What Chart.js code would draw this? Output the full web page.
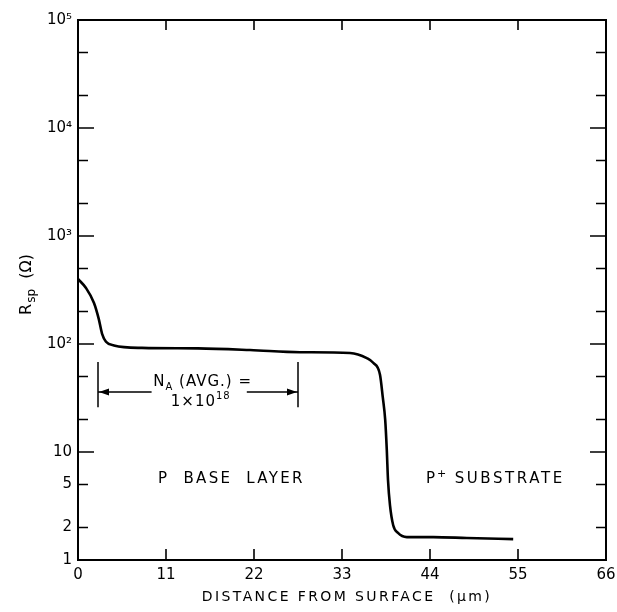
<!DOCTYPE html>
<html>
<head>
<meta charset="utf-8">
<script src="https://cdn.jsdelivr.net/npm/chart.js@4.4.1/dist/chart.umd.min.js"></script>
<style>
  html, body { margin: 0; padding: 0; background: #fff; }
  #wrap { width: 617px; height: 612px; }
</style>
</head>
<body>
<div id="wrap"><canvas id="chart" width="617" height="612"></canvas></div>
<script>
// spreading resistance profile
const distance = [0, 1, 2, 2.6, 3.0, 3.5, 4.5, 8, 15, 21.5, 27.75, 34, 36.1, 36.9, 37.75, 38.1, 38.4, 38.6, 38.75, 39, 39.4, 40, 41.1, 44.4, 48.6, 54.4];
const resistance = [400, 330, 240, 170, 125, 105, 97, 92, 91, 88, 84, 82.6, 74, 67, 52, 32, 19.8, 10.4, 5.5, 3.2, 2.1, 1.78, 1.63, 1.63, 1.6, 1.56];

const xTicks = [0, 11, 22, 33, 44, 55, 66];
const yTicks = [1, 2, 5, 10, 20, 50, 100, 200, 500, 1000, 2000, 5000, 10000, 20000, 50000, 100000];
const yLabelValues = [1, 2, 5, 10, 100, 1000, 10000, 100000];
const yLabelText = ['1', '2', '5', '10', '10²', '10³', '10⁴', '10⁵'];

const FONT = "'DejaVu Sans', sans-serif";

function spaced(ctx, text, x, y, spacing) {
  ctx.letterSpacing = spacing + 'px';
  ctx.fillText(text, x, y);
  const w = ctx.measureText(text).width;
  ctx.letterSpacing = '0px';
  return w;
}

// frame, inward ticks and the hand-lettered labels
const framePlugin = {
  id: 'frame',
  afterDraw(chart) {
    const { ctx, chartArea: a, scales: { x, y } } = chart;
    ctx.save();
    ctx.strokeStyle = '#000';
    ctx.fillStyle = '#000';
    ctx.lineWidth = 2;
    ctx.strokeRect(a.left, a.top, a.right - a.left, a.bottom - a.top);

    ctx.lineWidth = 1.6;
    yTicks.forEach(v => {
      if (v === 1 || v === 100000) return;
      const py = y.getPixelForValue(v);
      const l = Math.log10(v);
      const len = Math.abs(l - Math.round(l)) < 1e-9 ? 16 : 10;
      ctx.beginPath();
      ctx.moveTo(a.left, py); ctx.lineTo(a.left + len, py);
      ctx.moveTo(a.right, py); ctx.lineTo(a.right - len, py);
      ctx.stroke();
    });
    xTicks.forEach(v => {
      if (v === 0 || v === 66) return;
      const px = x.getPixelForValue(v);
      ctx.beginPath();
      ctx.moveTo(px, a.bottom); ctx.lineTo(px, a.bottom - 11);
      ctx.moveTo(px, a.top); ctx.lineTo(px, a.top + 10);
      ctx.stroke();
    });

    // x title
    ctx.font = `14px ${FONT}`;
    ctx.textBaseline = 'middle';
    ctx.textAlign = 'left';
    const xt = 'DISTANCE FROM SURFACE  (μm)';
    ctx.letterSpacing = '2.4px';
    const xw = ctx.measureText(xt).width;
    ctx.fillText(xt, 347 - xw / 2, 597);
    ctx.letterSpacing = '0px';

    // y title, rotated, with subscript
    ctx.save();
    ctx.translate(25, 285);
    ctx.rotate(-Math.PI / 2);
    ctx.textBaseline = 'alphabetic';
    ctx.font = `16px ${FONT}`;
    const wR = ctx.measureText('R').width;
    const wTail = ctx.measureText('  (Ω)').width;
    ctx.font = `12px ${FONT}`;
    const wSub = ctx.measureText('sp').width;
    let cx = -(wR + wSub + wTail) / 2;
    ctx.font = `16px ${FONT}`;
    ctx.fillText('R', cx, 6); cx += wR + 1;
    ctx.font = `12px ${FONT}`;
    ctx.fillText('sp', cx, 10); cx += wSub;
    ctx.font = `16px ${FONT}`;
    ctx.fillText('  (Ω)', cx, 6);
    ctx.restore();

    // N_A (AVG.) bracket
    const bl = x.getPixelForValue(2.5), br = x.getPixelForValue(27.5);
    const bTop = y.getPixelForValue(68), bBot = y.getPixelForValue(26);
    const ay = y.getPixelForValue(36);
    ctx.lineWidth = 1.5;
    ctx.beginPath();
    ctx.moveTo(bl, bTop); ctx.lineTo(bl, bBot);
    ctx.moveTo(br, bTop); ctx.lineTo(br, bBot);
    ctx.moveTo(bl, ay); ctx.lineTo(x.getPixelForValue(9.2), ay);
    ctx.moveTo(x.getPixelForValue(21.1), ay); ctx.lineTo(br, ay);
    ctx.stroke();
    ctx.beginPath();
    ctx.moveTo(bl + 1, ay); ctx.lineTo(bl + 11, ay - 3.5); ctx.lineTo(bl + 11, ay + 3.5); ctx.closePath();
    ctx.moveTo(br - 1, ay); ctx.lineTo(br - 11, ay - 3.5); ctx.lineTo(br - 11, ay + 3.5); ctx.closePath();
    ctx.fill();

    ctx.textBaseline = 'alphabetic';
    let tx = x.getPixelForValue(9.4);
    let ty = y.getPixelForValue(46) + 6;
    ctx.font = `15px ${FONT}`;
    tx += spaced(ctx, 'N', tx, ty, 1);
    ctx.font = `10px ${FONT}`;
    tx += spaced(ctx, 'A', tx, ty + 4, 1);
    ctx.font = `15px ${FONT}`;
    spaced(ctx, ' (AVG.) =', tx, ty, 1);

    tx = x.getPixelForValue(11.6);
    ty = y.getPixelForValue(30) + 6;
    tx += spaced(ctx, '1×10', tx, ty, 1);
    ctx.font = `10px ${FONT}`;
    spaced(ctx, '18', tx, ty - 7, 1);

    ctx.font = `15px ${FONT}`;
    spaced(ctx, 'P  BASE  LAYER', x.getPixelForValue(10), y.getPixelForValue(5.9) + 6, 2.3);
    tx = x.getPixelForValue(43.5);
    ty = y.getPixelForValue(5.9) + 6;
    tx += spaced(ctx, 'P', tx, ty, 2);
    ctx.font = `11px ${FONT}`;
    tx += spaced(ctx, '+', tx, ty - 6, 1);
    ctx.font = `15px ${FONT}`;
    spaced(ctx, ' SUBSTRATE', tx, ty, 2.6);

    ctx.restore();
  }
};

new Chart(document.getElementById('chart'), {
  type: 'line',
  data: {
    datasets: [{
      data: distance.map((d, i) => ({ x: d, y: resistance[i] })),
      borderColor: '#000',
      borderWidth: 2.6,
      pointRadius: 0,
      cubicInterpolationMode: 'monotone',
      fill: false
    }]
  },
  options: {
    responsive: false,
    animation: false,
    devicePixelRatio: 1,
    layout: { padding: { left: 0, right: 11, top: 20, bottom: 0 } },
    plugins: { legend: { display: false }, tooltip: { enabled: false } },
    scales: {
      x: {
        type: 'linear',
        min: 0,
        max: 66,
        afterBuildTicks: s => { s.ticks = xTicks.map(v => ({ value: v })); },
        afterFit: s => { s.height = 52; s.paddingLeft = 0; s.paddingRight = 0; },
        grid: { display: false, drawTicks: false },
        border: { display: false },
        ticks: { padding: 6, color: '#000', maxRotation: 0, autoSkip: false, font: { family: FONT, size: 15 } }
      },
      y: {
        type: 'logarithmic',
        min: 1,
        max: 100000,
        afterBuildTicks: s => { s.ticks = yTicks.map(v => ({ value: v })); },
        afterFit: s => { s.width = 78; s.paddingTop = 0; s.paddingBottom = 0; },
        grid: { display: false, drawTicks: false },
        border: { display: false },
        ticks: {
          padding: 6,
          color: '#000',
          autoSkip: false,
          font: { family: FONT, size: 15 },
          callback: v => {
            const i = yLabelValues.indexOf(v);
            return i < 0 ? '' : yLabelText[i];
          }
        }
      }
    }
  },
  plugins: [framePlugin]
});
</script>
</body>
</html>
